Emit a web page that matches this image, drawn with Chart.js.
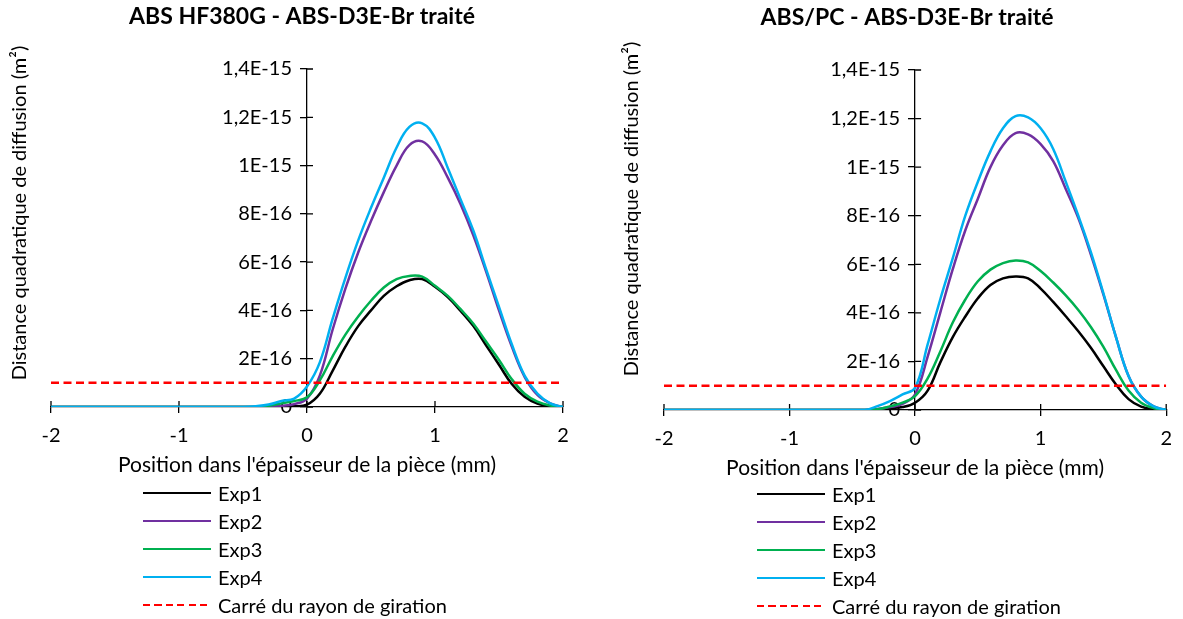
<!DOCTYPE html>
<html>
<head>
<meta charset="utf-8">
<script src="https://cdn.jsdelivr.net/npm/chart.js@4"></script>
<style>
  body { margin: 0; background: #fff; width: 1183px; height: 619px; overflow: hidden; position: relative; font-family: Lato, sans-serif; }
  canvas { position: absolute; top: 0; }
  .legend { position: absolute; font-size: 20px; color: #000; }
  .legend .row { height: 28px; display: flex; align-items: center; }
  .legend .sample { width: 68px; height: 2.5px; margin-right: 7px; }
</style>
</head>
<body>
<canvas id="chartA" width="591" height="480" style="left:0"></canvas>
<canvas id="chartB" width="592" height="483" style="left:591px"></canvas>
<div class="legend" id="legendA" style="left:143px;top:479px"></div>
<div class="legend" id="legendB" style="left:757px;top:480px"></div>
<script>
// position in the part thickness (mm)
const positions = [-2, -1.5, -1, -0.5, -0.4, -0.3, -0.2, -0.1, 0, 0.1, 0.2, 0.3, 0.4, 0.5, 0.6, 0.7, 0.8, 0.9, 1.0, 1.1, 1.2, 1.3, 1.4, 1.5, 1.6, 1.7, 1.8, 1.9, 2.0];

// values in units of 1E-16 m²
// ABS HF380G
const exp1A = [0, 0, 0, 0, 0, 0, 0.01, 0.03, 0.1, 0.55, 1.5, 2.5, 3.35, 4.0, 4.6, 5.0, 5.25, 5.3, 4.98, 4.55, 3.98, 3.35, 2.55, 1.75, 0.95, 0.42, 0.14, 0.03, 0];
const exp2A = [0, 0, 0, 0, 0, 0.02, 0.05, 0.12, 0.35, 1.3, 3.2, 4.9, 6.4, 7.7, 8.9, 10.0, 10.85, 11.0, 10.45, 9.5, 8.4, 7.1, 5.6, 4.0, 2.5, 1.25, 0.5, 0.15, 0];
const exp3A = [0, 0, 0, 0, 0, 0.05, 0.15, 0.25, 0.4, 1.1, 2.1, 3.0, 3.75, 4.4, 4.95, 5.3, 5.43, 5.4, 5.02, 4.6, 4.05, 3.45, 2.7, 1.95, 1.15, 0.55, 0.22, 0.06, 0];
const exp4A = [0, 0, 0, 0, 0.03, 0.1, 0.25, 0.35, 0.85, 1.85, 3.65, 5.35, 6.9, 8.25, 9.5, 10.75, 11.6, 11.75, 11.15, 9.9, 8.6, 7.3, 5.7, 4.15, 2.6, 1.3, 0.55, 0.15, 0];
// ABS/PC
const exp1B = [0, 0, 0, 0, 0, 0.02, 0.08, 0.12, 0.3, 0.8, 1.95, 3.0, 3.85, 4.6, 5.15, 5.42, 5.5, 5.42, 5.0, 4.45, 3.86, 3.24, 2.56, 1.8, 1.05, 0.45, 0.14, 0.03, 0];
const exp2B = [0, 0, 0, 0, 0, 0.04, 0.12, 0.25, 0.65, 2.2, 4.0, 5.8, 7.4, 8.7, 10.0, 10.9, 11.4, 11.35, 10.95, 10.25, 9.1, 7.9, 6.4, 4.75, 3.0, 1.4, 0.55, 0.15, 0];
const exp3B = [0, 0, 0, 0, 0, 0.03, 0.15, 0.3, 0.57, 1.3, 2.4, 3.6, 4.55, 5.3, 5.78, 6.05, 6.16, 6.08, 5.72, 5.25, 4.72, 4.12, 3.42, 2.6, 1.65, 0.8, 0.3, 0.08, 0];
const exp4B = [0, 0, 0, 0, 0, 0.16, 0.37, 0.64, 0.92, 2.7, 4.55, 6.25, 8.0, 9.4, 10.65, 11.6, 12.1, 12.05, 11.6, 10.75, 9.4, 8.0, 6.5, 4.8, 3.0, 1.4, 0.55, 0.15, 0];

// square of the radius of gyration
const gyrationX = [-2, 2];
const gyrationY = [1.0, 1.0];

const seriesNames = ["Exp1", "Exp2", "Exp3", "Exp4"];
const gyrationName = "Carré du rayon de giration";
const xTickLabels = ["-2", "-1", "0", "1", "2"];
const yTickLabels = ["0", "2E-16", "4E-16", "6E-16", "8E-16", "1E-15", "1,2E-15", "1,4E-15"];
const titleA = "ABS HF380G - ABS-D3E-Br traité";
const titleB = "ABS/PC - ABS-D3E-Br traité";
const xTitle = "Position dans l'épaisseur de la pièce (mm)";
const yTitle = "Distance quadratique de diffusion (m²)";

const FONT = "Lato, 'Open Sans', sans-serif";
const lineColors = ["#000000", "#7030A0", "#00B050", "#00B0F0"];
const red = "#FF0000";

const toPoints = (xs, ys) => xs.map((x, i) => ({ x: x, y: ys[i] }));

// tick marks that cross the axis line (inner half, outer half is drawn by Chart.js)
const crossTicks = {
  id: "crossTicks",
  beforeDatasetsDraw(chart) {
    const { ctx, scales: { x, y } } = chart;
    const x0 = x.getPixelForValue(0);
    const y0 = y.getPixelForValue(0);
    ctx.save();
    ctx.strokeStyle = "#000";
    ctx.lineWidth = 1.3;
    ctx.beginPath();
    x.ticks.forEach((t, i) => {
      const px = x.getPixelForTick(i);
      ctx.moveTo(px, y0);
      ctx.lineTo(px, y0 - 6);
    });
    y.ticks.forEach((t, i) => {
      const py = y.getPixelForTick(i);
      ctx.moveTo(x0, py);
      ctx.lineTo(x0 + 6, py);
    });
    ctx.stroke();
    ctx.restore();
  }
};

const yTitlePlugin = {
  id: "yTitle",
  afterDraw(chart, args, opts) {
    const ctx = chart.ctx;
    ctx.save();
    ctx.translate(opts.x, opts.y);
    ctx.rotate(-Math.PI / 2);
    ctx.font = "20px " + FONT;
    ctx.fillStyle = "#000";
    ctx.textAlign = "center";
    ctx.textBaseline = "middle";
    ctx.fillText(opts.text, 0, 0);
    ctx.restore();
  }
};

function makeChart(canvasId, title, series, cfg) {
  const datasets = series.map((values, i) => ({
    label: seriesNames[i],
    data: toPoints(positions, values),
    borderColor: lineColors[i],
    backgroundColor: lineColors[i],
    borderWidth: 2.5,
    pointRadius: 0,
    tension: 0.4,
    order: 4 - i
  }));
  datasets.push({
    label: gyrationName,
    data: toPoints(gyrationX, gyrationY),
    borderColor: red,
    backgroundColor: red,
    borderWidth: 2.5,
    borderDash: [8, 4.5],
    pointRadius: 0,
    order: 0
  });

  const tickFont = { family: FONT, size: 20 };

  return new Chart(document.getElementById(canvasId), {
    type: "line",
    data: { datasets: datasets },
    options: {
      responsive: false,
      animation: false,
      layout: { padding: { left: cfg.padLeft, right: cfg.padRight, top: 0, bottom: 0 } },
      plugins: {
        legend: { display: false },
        tooltip: { enabled: false },
        title: {
          display: true,
          text: title,
          color: "#000",
          font: { family: FONT, size: 23, weight: "bold" },
          padding: { top: cfg.titleTop, bottom: cfg.titleBottom }
        },
        yTitle: { text: yTitle, x: cfg.yTitleX, y: cfg.yTitleY }
      },
      scales: {
        x: {
          type: "linear",
          position: "bottom",
          min: -2,
          max: 2,
          ticks: {
            stepSize: 1,
            color: "#000",
            font: tickFont,
            padding: 11,
            maxRotation: 0,
            autoSkip: false,
            callback: (v, i) => xTickLabels[i]
          },
          grid: { drawOnChartArea: false, tickLength: 6, color: "#000", lineWidth: 1.3 },
          border: { color: "#000", width: 1.3 },
          title: { display: true, text: xTitle, color: "#000", font: { family: FONT, size: 21 }, padding: { top: 0, bottom: 2 } },
          afterFit: (s) => { s.height = 73; }
        },
        y: {
          type: "linear",
          position: { x: 0 },
          min: 0,
          max: 14,
          ticks: {
            stepSize: 2,
            color: "#000",
            font: tickFont,
            // labels of an axis placed at x = 0 end on the axis line; an em space keeps them clear of the tick
            callback: (v, i) => yTickLabels[i] + "\u2003"
          },
          grid: { drawOnChartArea: false, tickLength: 6, color: "#000", lineWidth: 1.3 },
          border: { color: "#000", width: 1.3 }
        },
        gap: {
          type: "linear",
          position: "left",
          min: 0,
          max: 14,
          ticks: { display: false },
          grid: { display: false, drawTicks: false },
          border: { display: false },
          afterFit: (s) => { s.width = cfg.gap; }
        }
      }
    },
    plugins: [crossTicks, yTitlePlugin]
  });
}

function makeLegend(id) {
  const box = document.getElementById(id);
  const names = seriesNames.concat([gyrationName]);
  names.forEach((name, i) => {
    const row = document.createElement("div");
    row.className = "row";
    const sample = document.createElement("div");
    sample.className = "sample";
    if (i < seriesNames.length) {
      sample.style.background = lineColors[i];
    } else {
      sample.style.background = "repeating-linear-gradient(90deg, " + red + " 0 7px, transparent 7px 11.5px)";
    }
    const label = document.createElement("span");
    label.textContent = name;
    row.appendChild(sample);
    row.appendChild(label);
    box.appendChild(row);
  });
}

makeChart("chartA", titleA, [exp1A, exp2A, exp3A, exp4A],
  { padLeft: 41, padRight: 28, gap: 10, titleTop: 3, titleBottom: 38.4, yTitleX: 20, yTitleY: 213 });
makeChart("chartB", titleB, [exp1B, exp2B, exp3B, exp4B],
  { padLeft: 46, padRight: 6, gap: 27, titleTop: 4, titleBottom: 38.4, yTitleX: 41, yTitleY: 209 });
makeLegend("legendA");
makeLegend("legendB");
</script>
</body>
</html>
